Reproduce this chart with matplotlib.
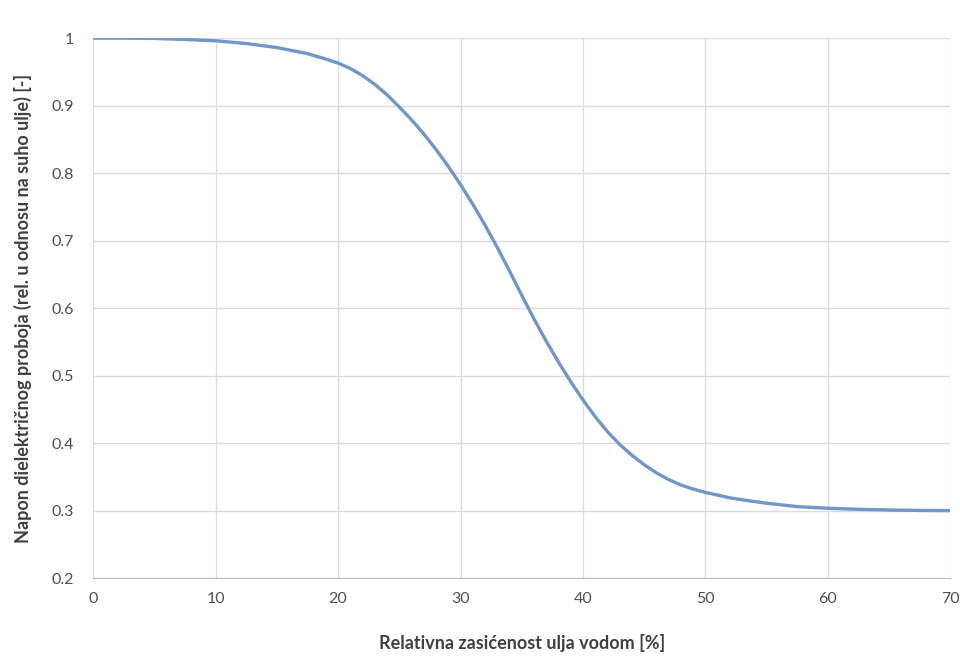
import matplotlib
matplotlib.use("Agg")
import matplotlib.pyplot as plt

saturation = [0, 2.5, 5, 7.5, 10, 12.5, 15, 17.5, 19, 20, 21, 22, 23, 24, 25, 26, 27, 28, 29, 30,
              31, 32, 33, 34, 35, 36, 37, 38, 39, 40, 41, 42, 43, 44, 45, 46, 47, 48, 49, 50,
              51, 52, 53, 55, 57.5, 60, 62.5, 65, 67.5, 70]
voltage = [1.0, 1.0, 0.9995, 0.998, 0.996, 0.992, 0.986, 0.977, 0.969, 0.963, 0.955, 0.9445, 0.9315, 0.916, 0.898,
           0.879, 0.858, 0.835, 0.810, 0.783, 0.754, 0.723, 0.690, 0.655, 0.619, 0.584, 0.551, 0.520, 0.491, 0.464,
           0.439, 0.417, 0.398, 0.382, 0.368, 0.356, 0.346, 0.338, 0.332, 0.327,
           0.323, 0.319, 0.316, 0.311, 0.306, 0.3035, 0.302, 0.301, 0.3003, 0.300]
xticks = [0, 10, 20, 30, 40, 50, 60, 70]
yticks = [0.2, 0.3, 0.4, 0.5, 0.6, 0.7, 0.8, 0.9, 1.0]
ytick_labels = ["0.2", "0.3", "0.4", "0.5", "0.6", "0.7", "0.8", "0.9", "1"]

plt.rcParams['font.family'] = ['Lato', 'DejaVu Sans']

fig = plt.figure(figsize=(9.6, 6.57), dpi=100)
ax = fig.add_axes([0.097, 0.12, 0.893, 0.822])

ax.plot(saturation, voltage, color='#7097c8', lw=2.4, solid_capstyle='round', solid_joinstyle='round')

ax.set_xlim(0, 70)
ax.set_ylim(0.2, 1.0)
ax.set_xticks(xticks)
ax.set_yticks(yticks)
ax.set_yticklabels(ytick_labels)
ax.grid(True, color='#dcdcdc', lw=1)
ax.set_axisbelow(True)
for s in ['top', 'right', 'left']:
    ax.spines[s].set_visible(False)
ax.spines['bottom'].set_color('#bfbfbf')
ax.tick_params(length=0, labelsize=11.5, colors='#505050', pad=10)
ax.tick_params(axis='y', pad=14)

ax.set_xlabel('Relativna zasićenost ulja vodom [%]', fontsize=13, fontweight='bold', color='#404040', labelpad=20)
ax.set_ylabel('Napon dielektričnog proboja (rel. u odnosu na suho ulje) [-]', fontsize=13, fontweight='bold', color='#404040', labelpad=14)

fig.savefig('out.png', dpi=100)
